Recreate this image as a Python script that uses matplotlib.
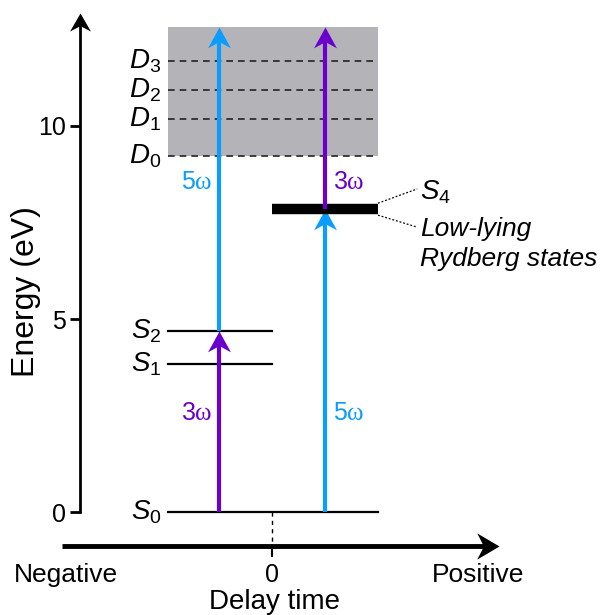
import matplotlib
matplotlib.use("Agg")
import matplotlib.pyplot as plt
from matplotlib.path import Path

plt.rcParams["font.family"] = "Liberation Sans"
plt.rcParams["mathtext.fontset"] = "custom"
plt.rcParams["mathtext.rm"] = "Liberation Sans"
plt.rcParams["mathtext.it"] = "Liberation Sans:italic"
plt.rcParams["mathtext.sf"] = "Liberation Serif"

# Energy levels (eV)
s_names = ["$S_0$", "$S_1$", "$S_2$"]
s_energies = [0.0, 3.83, 4.69]
s4_name = "$S_4$"
s4_energy = 7.85
d_names = ["$D_0$", "$D_1$", "$D_2$", "$D_3$"]
d_energies = [9.22, 10.18, 10.93, 11.68]
continuum_top = 12.56
yticks = [0, 5, 10]

# Pulse positions along delay axis (negative / positive delay)
delays = [-1.0, 1.0]

BLUE = "#0a9cff"
PURPLE = "#6a00cc"


def head(direction="up", w=0.55, notch=0.7):
    # stealth-like arrowhead with the tip at the origin
    if direction == "up":
        verts = [(0, 0), (-w, -1), (0, -notch), (w, -1), (0, 0)]
    else:
        verts = [(0, 0), (-1, w), (-notch, 0), (-1, -w), (0, 0)]
    codes = [Path.MOVETO, Path.LINETO, Path.LINETO, Path.LINETO, Path.CLOSEPOLY]
    return Path(verts, codes)


def arrow(ax, x, y0, y1, color, z=4):
    ax.plot([x, x], [y0, y1 - 0.3], color=color, lw=3, solid_capstyle="butt", zorder=z)
    ax.plot(x, y1, marker=head(), ms=30, color=color, mew=0, zorder=z)


fig = plt.figure(figsize=(6.04, 6.15), dpi=100)
ax = fig.add_axes([0, 0, 1, 1])
ax.set_xlim(-5.132, 6.264)
ax.set_ylim(-2.668, 13.264)

# energy axis
ax.spines["left"].set_position(("data", -3.62))
ax.spines["left"].set_bounds(0, 12.6)
ax.spines["left"].set_linewidth(2)
for s in ["top", "right", "bottom"]:
    ax.spines[s].set_visible(False)
ax.set_xticks([])
ax.set_yticks(yticks)
ax.tick_params(axis="y", length=7, width=2, labelsize=18, pad=3)
ax.plot(-3.62, 12.93, marker=head(w=0.58), ms=26, color="k", mew=0, clip_on=False)
ax.text(-4.64, 5.70, "Energy (eV)", rotation=90, ha="center", va="center", fontsize=23)

# ionization continuum
x_lo, x_mid, x_hi = -1.96, 0.0, 2.0
ax.fill_between([x_lo, x_hi], d_energies[0], continuum_top, color="#b4b4b8", lw=0, zorder=1)
for name, e in zip(d_names, d_energies):
    ax.plot([x_lo, x_hi], [e, e], color="#222222", lw=1.2, ls=(0, (4, 3)), zorder=2)
    ax.text(-2.09, e, name, ha="right", va="center", fontsize=20)

# neutral states
for name, e in zip(s_names, s_energies):
    right = x_hi if e == 0 else x_mid
    ax.plot([x_lo, right], [e, e], color="k", lw=1.6, zorder=2)
    ax.text(-2.09, e, name, ha="right", va="center", fontsize=20)

ax.plot([x_mid, x_hi], [s4_energy, s4_energy], color="k", lw=7.5, solid_capstyle="butt", zorder=3)
ax.plot([x_hi, 2.74], [8.0, 8.37], color="k", lw=0.9, ls=(0, (1.5, 1.5)))
ax.plot([x_hi, 2.74], [7.69, 7.38], color="k", lw=0.9, ls=(0, (1.5, 1.5)))
ax.text(2.79, 8.29, s4_name, ha="left", va="center", fontsize=20)
ax.text(2.79, 7.33, "Low-lying", ha="left", va="center", fontsize=19, style="italic")
ax.text(2.79, 6.55, "Rydberg states", ha="left", va="center", fontsize=19, style="italic")

# negative delay: 3w pump then 5w probe
arrow(ax, delays[0], s_energies[0], s_energies[2], PURPLE)
arrow(ax, delays[0], s_energies[2], continuum_top, BLUE)
ax.text(-1.13, 2.56, r"3$\mathsf{\omega}$", color=PURPLE, ha="right", va="center", fontsize=18)
ax.text(-1.13, 8.55, r"5$\mathsf{\omega}$", color=BLUE, ha="right", va="center", fontsize=18)

# positive delay: 5w pump then 3w probe
arrow(ax, delays[1], s_energies[0], s4_energy, BLUE, z=2)
arrow(ax, delays[1], s4_energy, continuum_top, PURPLE)
ax.text(1.15, 2.56, r"5$\mathsf{\omega}$", color=BLUE, ha="left", va="center", fontsize=18)
ax.text(1.15, 8.55, r"3$\mathsf{\omega}$", color=PURPLE, ha="left", va="center", fontsize=18)

# delay axis
ax.plot([-3.96, 4.0], [-0.88, -0.88], color="k", lw=3.5, solid_capstyle="butt")
ax.plot(4.28, -0.88, marker=head("right", w=0.59), ms=32, color="k", mew=0)
ax.plot([0, 0], [-0.88, -1.14], color="k", lw=1.5)
ax.plot([0, 0], [0, -0.88], color="k", lw=1, ls=(0, (3, 3)))
ax.text(-3.89, -1.63, "Negative", ha="center", va="center", fontsize=19)
ax.text(3.89, -1.63, "Positive", ha="center", va="center", fontsize=19)
ax.text(0, -1.63, "0", ha="center", va="center", fontsize=18)
ax.text(0.04, -2.67, "Delay time", ha="center", va="bottom", fontsize=20)

fig.savefig("out.png", dpi=100)
